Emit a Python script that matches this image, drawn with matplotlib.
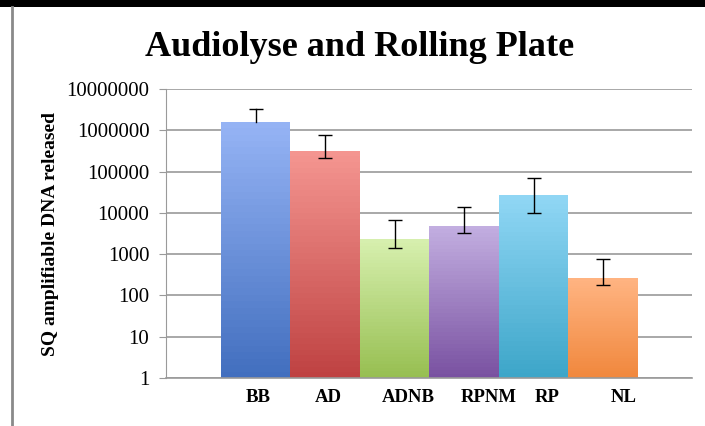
import numpy as np
import matplotlib
matplotlib.use("Agg")
import matplotlib.pyplot as plt
from matplotlib.patches import Rectangle
from matplotlib.lines import Line2D

# data
samples = ["BB", "AD", "ADNB", "RPNM", "RP", "NL"]
released = [1600000, 320000, 2300, 4900, 27000, 260]
err_upper = [3200000, 750000, 6900, 14000, 69000, 750]
err_lower = [None, 215000, 1400, 3200, 10200, 175]   # BB lower arm not shown
label_pos = [0.03, 1.04, 2.2, 3.35, 4.2, 5.3]

# gradient colours (top, bottom) per bar
top_cols = ["#96b4f5", "#f59691", "#d7f0af", "#c3afe1", "#91d7f5", "#ffb482"]
bot_cols = ["#416ebe", "#be4141", "#96be50", "#7850a0", "#3ca5c8", "#f0873c"]

W, H = 705, 426
fig = plt.figure(figsize=(W / 100, H / 100), dpi=100)
ax = fig.add_axes([166 / W, 1 - 378 / H, (692 - 166) / W, (378 - 89) / H])
ax.set_yscale("log")
ax.set_ylim(1, 1e7)
ax.set_xlim(-1.29, 6.28)

def hex2rgb(h):
    return np.array([int(h[i:i + 2], 16) / 255 for i in (1, 3, 5)])

nslices = 40
for i, v in enumerate(released):
    c_top = hex2rgb(top_cols[i])
    c_bot = hex2rgb(bot_cols[i])
    edges = 10 ** np.linspace(0, np.log10(v), nslices + 1)
    for k in range(nslices):
        t = (k + 0.5) / nslices
        col = c_bot * (1 - t) + c_top * t
        ax.bar(i, edges[k + 1] - edges[k], bottom=edges[k], width=1.0,
               color=col, linewidth=0, zorder=2)

# error bars
for i, v in enumerate(released):
    if err_lower[i] is None:
        # only the upper arm with its cap
        ax.plot([i, i], [v, err_upper[i]], color="black", linewidth=1, zorder=4)
        ax.plot(i, err_upper[i], marker="_", markersize=10, markeredgewidth=1,
                color="black", zorder=4)
        continue
    ax.errorbar(i, v, yerr=[[v - err_lower[i]], [err_upper[i] - v]], fmt="none",
                ecolor="black", elinewidth=1, capsize=5, capthick=1, zorder=4)

ax.grid(axis="y", color="#9a9a9a", linewidth=1.2, zorder=0)
ax.set_axisbelow(True)
for s in ["top", "right"]:
    ax.spines[s].set_visible(False)
ax.spines["left"].set_color("#9a9a9a")
ax.spines["bottom"].set_color("#9a9a9a")
ax.spines["bottom"].set_linewidth(1.2)

ax.set_yticks([1, 10, 100, 1000, 10000, 100000, 1000000, 10000000])
ax.set_yticklabels(["1", "10", "100", "1000", "10000", "100000", "1000000", "10000000"])
ax.minorticks_off()
ax.tick_params(axis="y", length=5, color="#9a9a9a", pad=7, labelsize=15)
for t in ax.get_yticklabels():
    t.set_fontfamily("Liberation Serif")

ax.set_xticks(label_pos)
ax.set_xticklabels(samples, fontfamily="Liberation Serif", fontweight="bold", fontsize=13.5)
ax.tick_params(axis="x", length=0, pad=8)

ax.set_ylabel("SQ amplifiable DNA released", fontfamily="Liberation Serif",
              fontweight="bold", fontsize=14, labelpad=5)

fig.text(360 / W, 1 - 47 / H, "Audiolyse and Rolling Plate", ha="center", va="center",
         fontfamily="Liberation Serif", fontweight="bold", fontsize=26)

# chart border lines
fig.add_artist(Rectangle((0, 1 - 7 / H), 1, 7 / H, transform=fig.transFigure,
                         color="black", linewidth=0))
fig.add_artist(Line2D([12 / W, 12 / W], [0, 1 - 7 / H], transform=fig.transFigure,
                      color="#8a8a8a", linewidth=2))

fig.savefig("out.png", dpi=100)
